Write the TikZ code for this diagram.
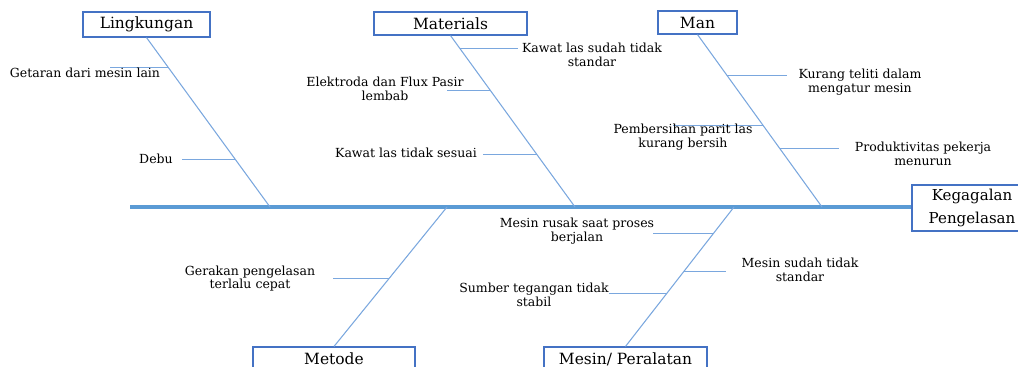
\documentclass[tikz,border=0pt]{standalone}
\usepackage{fontspec}
\setmainfont{DejaVu Serif}
\usetikzlibrary{calc,positioning}
\definecolor{boxblue}{HTML}{4472C4}
\definecolor{boneblue}{HTML}{7AA7DE}
\definecolor{spineblue}{HTML}{5B9BD5}
\tikzset{
    catbox/.style={draw=boxblue, line width=0.8pt, inner sep=0pt, font=\fontsize{11}{12}\selectfont},
    cattext/.style={inner sep=0pt, font=\fontsize{11}{12}\selectfont},
    cause/.style={align=center, inner sep=0pt, font=\fontsize{8.9}{9.8}\selectfont},
    bone/.style={draw=boneblue, line width=0.75pt},
    tick/.style={draw=boneblue, line width=0.65pt}
}

\begin{document}
\begin{tikzpicture}[x=0.025cm, y=-0.025cm]
    \clip (0, 0) rectangle (1018, 367);
    \useasboundingbox (0, 0) rectangle (1018, 367);

    % kategori
    \node[catbox, minimum width=3.175cm, minimum height=0.625cm] (ling) at (146.5, 24.5) {Lingkungan};
    \node[catbox, minimum width=3.825cm, minimum height=0.575cm] (mat) at (450.5, 23.5) {Materials};
    \node[catbox, minimum width=1.975cm, minimum height=0.575cm] (man) at (697.5, 22.5) {Man};
    \node[catbox, minimum width=4.05cm, minimum height=0.65cm] (met) at (334, 360) {};
    \node[cattext, below=1.6mm of met.north] (mettext) {Metode};
    \node[catbox, minimum width=4.075cm, minimum height=0.65cm] (mes) at (625.5, 360) {};
    \node[cattext, below=1.6mm of mes.north] (mestext) {Mesin/ Peralatan};
    \node[catbox, align=center, font=\fontsize{10.7}{17}\selectfont,
          minimum width=3cm, minimum height=1.15cm] (head) at (972, 208) {Kegagalan\\Pengelasan};

    % tulang utama
    \coordinate (tail) at (130, 207);
    \draw[spineblue, line width=2.6pt] (tail) -- (tail -| head.west);

    \coordinate (jLing) at (270, 207);
    \coordinate (jMat) at (575, 207);
    \coordinate (jMan) at (822, 207);
    \coordinate (jMet) at (447, 207);
    \coordinate (jMes) at (734, 207);
    \draw[bone]
    (ling.south) edge (jLing)
    (mat.south) edge (jMat)
    (man.south) edge (jMan)
    (jMet) edge (met.north)
    (jMes) edge (mes.north);

    % titik cabang
    \coordinate (l1) at ($(ling.south)!0.176!(jLing)$);
    \coordinate (l2) at ($(ling.south)!0.718!(jLing)$);
    \coordinate (m1) at ($(mat.south)!0.076!(jMat)$);
    \coordinate (m2) at ($(mat.south)!0.320!(jMat)$);
    \coordinate (m3) at ($(mat.south)!0.692!(jMat)$);
    \coordinate (n1) at ($(man.south)!0.237!(jMan)$);
    \coordinate (n2) at ($(man.south)!0.526!(jMan)$);
    \coordinate (n3) at ($(man.south)!0.659!(jMan)$);
    \coordinate (t1) at ($(jMet)!0.514!(met.north)$);
    \coordinate (e1) at ($(jMes)!0.193!(mes.north)$);
    \coordinate (e2) at ($(jMes)!0.464!(mes.north)$);
    \coordinate (e3) at ($(jMes)!0.621!(mes.north)$);
    \draw[tick]
    (l1) -- ++(-58, 0)
    (l2) -- ++(-53, 0)
    (m1) -- ++(58, 0)
    (m2) -- ++(-43, 0)
    (m3) -- ++(-54, 0)
    (n1) -- ++(60, 0)
    (n2) -- ++(-90, 0)
    (n3) -- ++(59, 0)
    (t1) -- ++(-56, 0)
    (e1) -- ++(-60, 0)
    (e2) -- ++(42, 0)
    (e3) -- ++(-58, 0);

    % penyebab
    \node[cause] (getaran) at (85, 73) {Getaran dari mesin lain};
    \node[cause] (debu) at (156, 159) {Debu};
    \node[cause] (kawat1) at (592, 54.5) {Kawat las sudah tidak\\standar};
    \node[cause] (elektroda) at (385, 89) {Elektroda dan Flux Pasir\\lembab};
    \node[cause] (kawat2) at (406, 153) {Kawat las tidak sesuai};
    \node[cause] (teliti) at (860, 82) {Kurang teliti dalam\\mengatur mesin};
    \node[cause] (parit) at (683, 137) {Pembersihan parit las\\kurang bersih};
    \node[cause] (produk) at (923, 154) {Produktivitas pekerja\\menurun};
    \node[cause] (gerakan) at (250, 278.5) {Gerakan pengelasan\\terlalu cepat};
    \node[cause] (rusak) at (577, 231.5) {Mesin rusak saat proses\\berjalan};
    \node[cause] (mstandar) at (800, 270) {Mesin sudah tidak\\standar};
    \node[cause] (sumber) at (534, 295) {Sumber tegangan tidak\\stabil};
\end{tikzpicture}
\end{document}
